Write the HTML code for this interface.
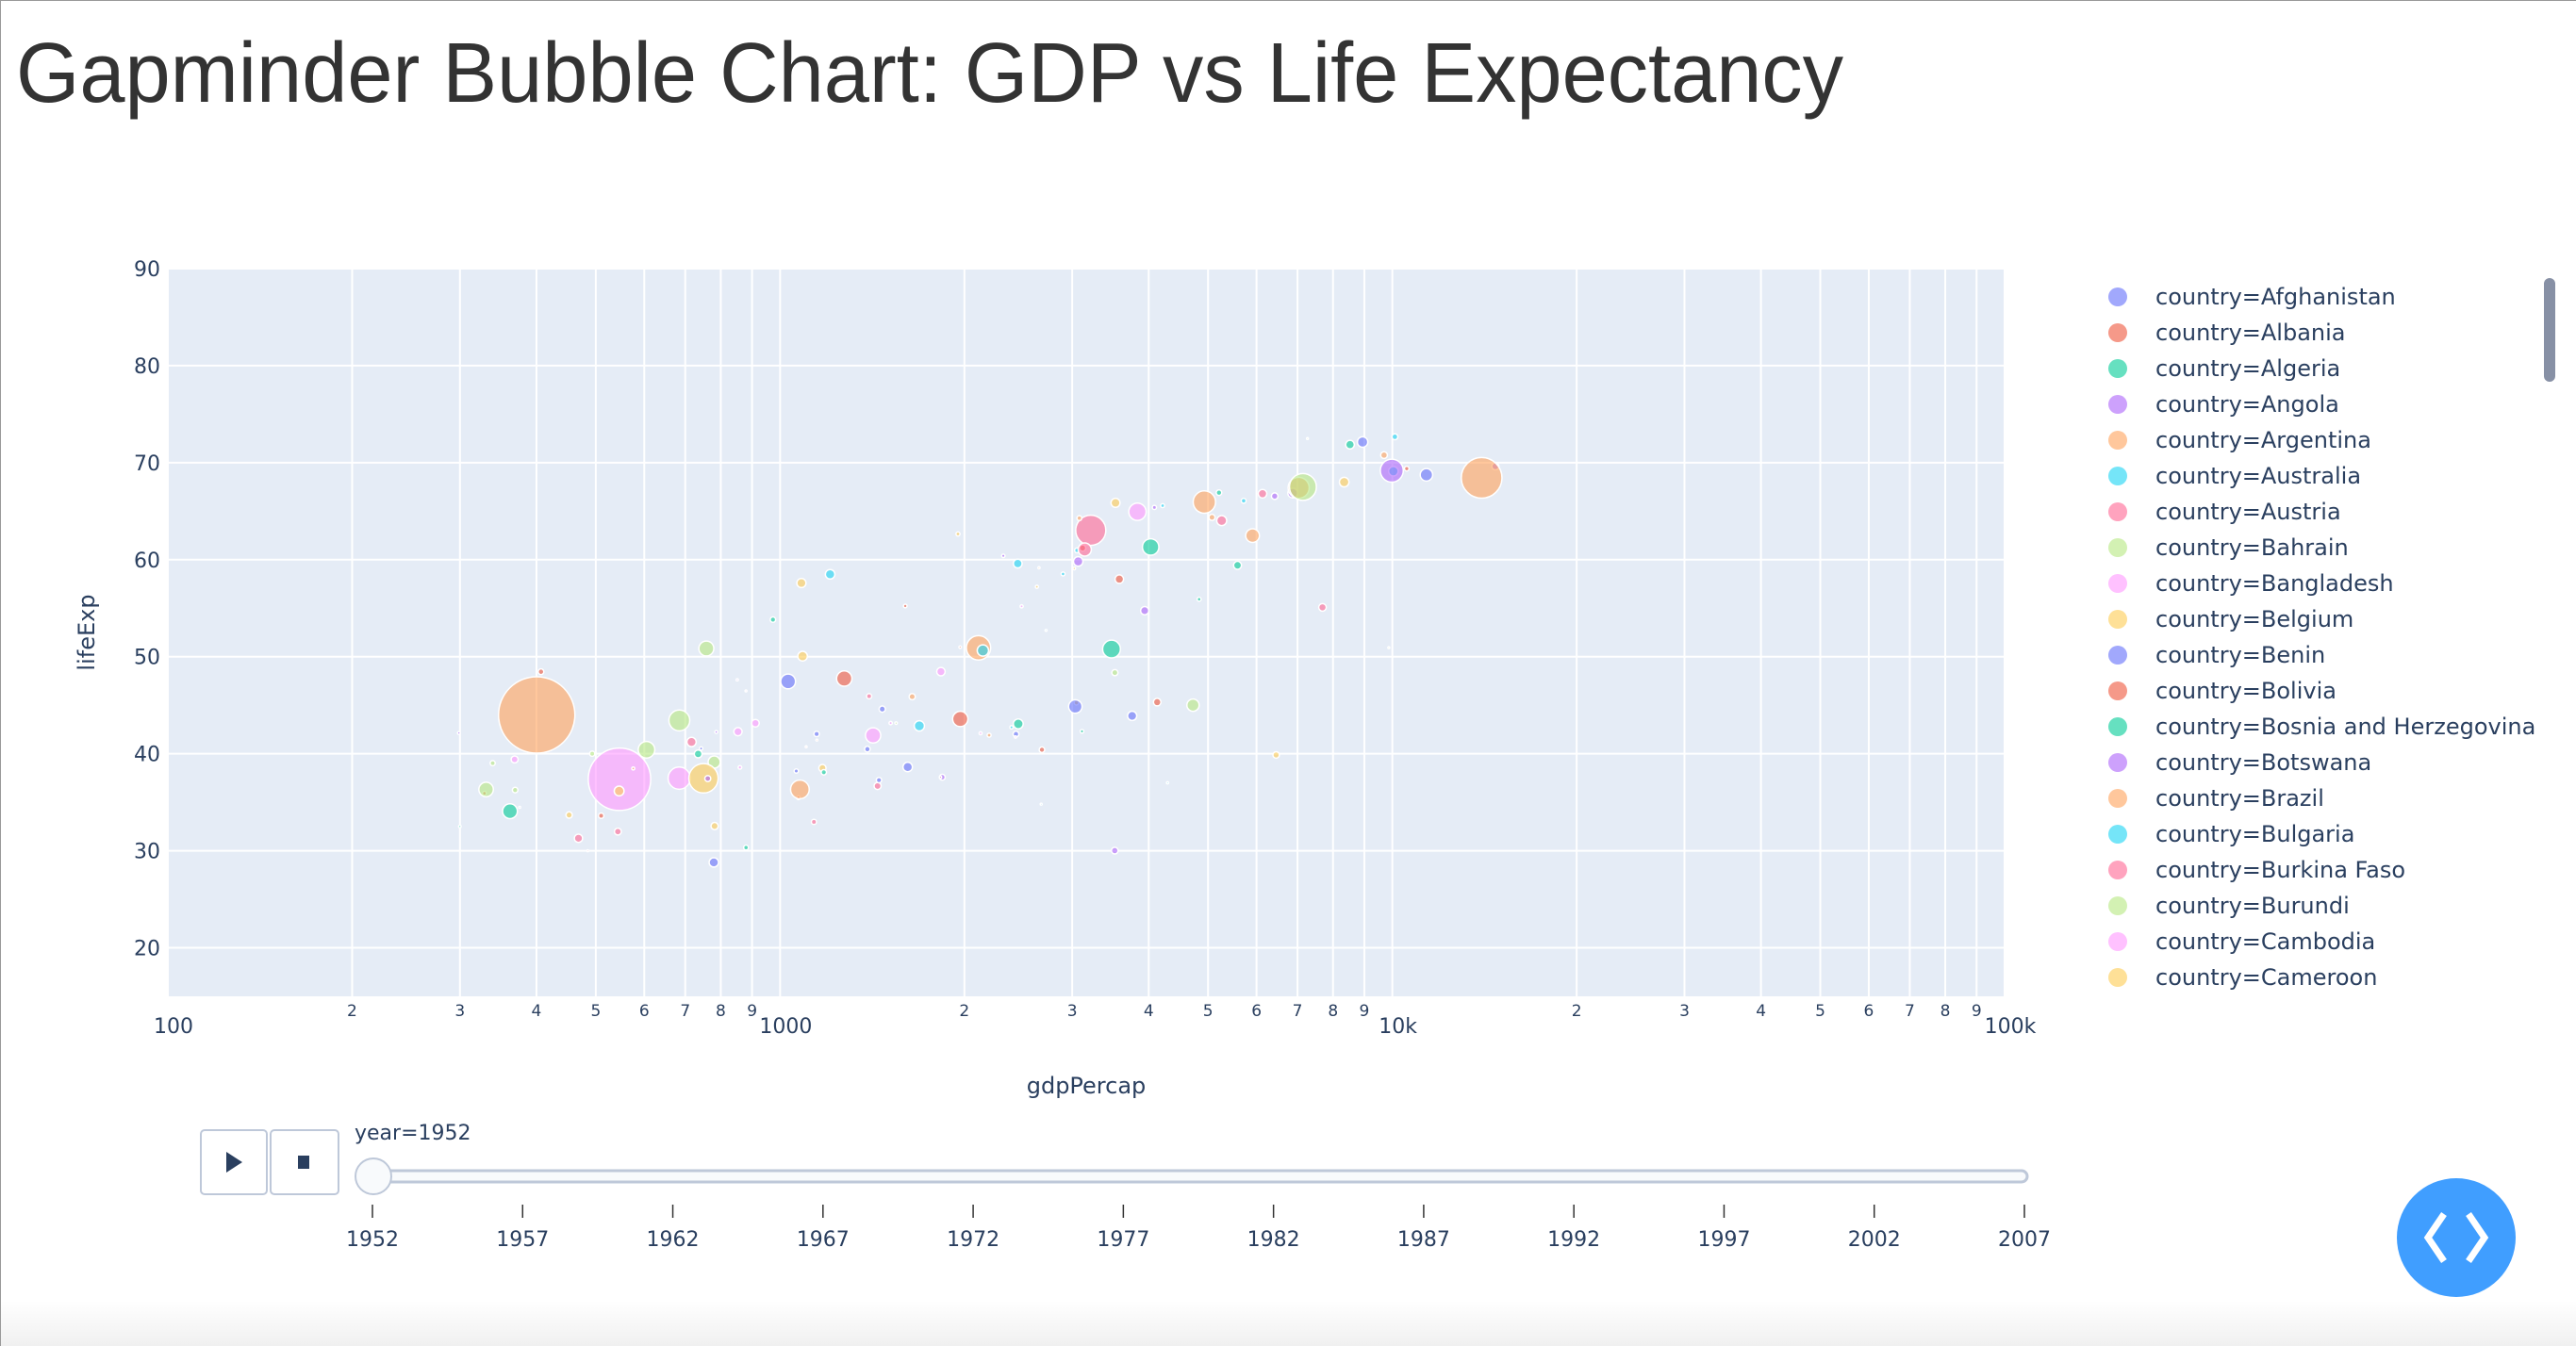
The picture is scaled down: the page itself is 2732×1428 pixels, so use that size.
<!DOCTYPE html>
<html><head><meta charset="utf-8">
<style>
html,body{margin:0;padding:0;background:#fff;}
body{width:2732px;height:1428px;overflow:hidden;position:relative;}
svg{position:absolute;left:0;top:0;}
</style></head>
<body>
<svg id="chart" width="2732" height="1428" viewBox="0 0 2732 1428" xmlns="http://www.w3.org/2000/svg">
<defs>
<linearGradient id="bot" x1="0" y1="0" x2="0" y2="1"><stop offset="0" stop-color="#fff"/><stop offset="1" stop-color="#f0f0f0"/></linearGradient>
</defs>
<rect x="0" y="1380" width="2732" height="48" fill="url(#bot)"/>
<line x1="0" y1="0.5" x2="2732" y2="0.5" stroke="#999" stroke-width="1"/>
<line x1="0.5" y1="0" x2="0.5" y2="1428" stroke="#999" stroke-width="1"/>
<text x="17" y="108" font-family="Liberation Sans, sans-serif" font-size="90" fill="#333" textLength="1938" lengthAdjust="spacingAndGlyphs">Gapminder Bubble Chart: GDP vs Life Expectancy</text>
<rect x="178" y="285" width="1948" height="772" fill="#e5ecf6"/>
<g id="grid"></g>
<g id="ticks"></g>
<g id="bubbles"></g>
<text x="1152" y="1160" text-anchor="middle" font-family="DejaVu Sans, sans-serif" font-size="24" fill="#2a3f5f">gdpPercap</text>
<text x="0" y="0" transform="translate(100,671) rotate(-90)" text-anchor="middle" font-family="DejaVu Sans, sans-serif" font-size="24" fill="#2a3f5f">lifeExp</text>
<g id="legend"></g>
<rect x="2698" y="295" width="12" height="110" rx="6" fill="#8790a5"/>
<g>
<rect x="213" y="1199" width="70" height="68" rx="4" fill="#fff" stroke="#bec8d9" stroke-width="2"/>
<polygon points="240,1222 240,1244 257,1233" fill="#2a3f5f"/>
</g>
<g>
<rect x="287" y="1199" width="72" height="68" rx="4" fill="#fff" stroke="#bec8d9" stroke-width="2"/>
<rect x="316" y="1226" width="12" height="14" fill="#2a3f5f"/>
</g>
<text x="376" y="1209" font-family="DejaVu Sans, sans-serif" font-size="22" fill="#2a3f5f">year=1952</text>
<rect x="394" y="1242" width="1756" height="12" rx="6" fill="#f8fafc" stroke="#bec8d9" stroke-width="3"/>
<g id="slidert"></g>
<circle cx="396" cy="1248" r="19" fill="#f8fafc" stroke="#bec8d9" stroke-width="2"/>
<g>
<circle cx="2605" cy="1313" r="63" fill="#409eff"/>
<polyline points="2592,1288 2575,1313 2592,1338" fill="none" stroke="#fff" stroke-width="7" stroke-linejoin="miter"/>
<polyline points="2618,1288 2635,1313 2618,1338" fill="none" stroke="#fff" stroke-width="7" stroke-linejoin="miter"/>
</g>
</svg>
<script>
const countries=["Afghanistan","Albania","Algeria","Angola","Argentina","Australia","Austria","Bahrain","Bangladesh","Belgium","Benin","Bolivia","Bosnia and Herzegovina","Botswana","Brazil","Bulgaria","Burkina Faso","Burundi","Cambodia","Cameroon","Canada","Central African Republic","Chad","Chile","China","Colombia","Comoros","Congo, Dem. Rep.","Congo, Rep.","Costa Rica","Cote d'Ivoire","Croatia","Cuba","Czech Republic","Denmark","Djibouti","Dominican Republic","Ecuador","Egypt","El Salvador","Equatorial Guinea","Eritrea","Ethiopia","Finland","France","Gabon","Gambia","Germany","Ghana","Greece","Guatemala","Guinea","Guinea-Bissau","Haiti","Honduras","Hong Kong","Hungary","Iceland","India","Indonesia","Iran","Iraq","Ireland","Israel","Italy","Jamaica","Japan","Jordan","Kenya","Korea, Dem. Rep.","Korea, Rep.","Kuwait","Lebanon","Lesotho","Liberia","Libya","Madagascar","Malawi","Malaysia","Mali","Mauritania","Mauritius","Mexico","Mongolia","Montenegro","Morocco","Mozambique","Myanmar","Namibia","Nepal","Netherlands","New Zealand","Nicaragua","Niger","Nigeria","Norway","Oman","Pakistan","Panama","Paraguay","Peru","Philippines","Poland","Portugal","Puerto Rico","Reunion","Romania","Rwanda","Sao Tome and Principe","Saudi Arabia","Senegal","Serbia","Sierra Leone","Singapore","Slovak Republic","Slovenia","Somalia","South Africa","Spain","Sri Lanka","Sudan","Swaziland","Sweden","Switzerland","Syria","Taiwan","Tanzania","Thailand","Togo","Trinidad and Tobago","Tunisia","Turkey","Uganda","United Kingdom","United States","Uruguay","Venezuela","Vietnam","West Bank and Gaza","Yemen, Rep.","Zambia","Zimbabwe"];
const lifeExp=[28.801,55.23,43.077,30.015,62.485,69.12,66.8,50.939,37.484,68.0,38.223,40.414,53.82,47.622,50.917,59.6,31.975,39.031,39.417,38.523,68.75,35.463,38.092,54.745,44.0,50.643,40.715,39.143,42.111,57.206,40.477,61.21,59.421,66.87,70.78,34.812,45.928,48.357,41.893,45.262,34.482,35.928,34.078,66.55,67.41,37.003,30.0,67.5,43.149,65.86,42.023,33.609,32.5,37.579,41.912,60.96,64.03,72.49,37.373,37.468,44.869,45.32,66.91,65.39,65.94,58.53,63.03,43.158,42.27,50.056,47.453,55.565,55.928,42.138,38.48,42.723,36.681,36.256,48.463,33.685,40.543,50.986,50.789,42.244,59.164,42.873,31.286,36.319,41.725,36.157,72.13,69.39,42.314,37.444,36.324,72.67,37.578,43.436,55.191,62.649,43.902,47.752,61.31,59.82,64.28,52.724,61.05,40.0,46.471,39.875,37.278,57.996,30.331,60.396,64.36,65.57,32.978,45.009,64.94,57.593,38.635,41.407,71.86,69.62,45.883,58.5,41.215,50.848,38.596,59.1,44.6,43.585,39.978,69.18,68.44,66.071,55.088,40.412,43.16,32.548,42.038,48.451];
const gdpPercap=[779.4,1601.1,2449.0,3520.6,5911.3,10039.6,6137.1,9867.1,684.2,8343.1,1062.8,2677.3,973.5,851.2,2108.9,2444.3,543.3,339.3,368.5,1172.7,11367.2,1071.3,1178.7,3940.0,400.4,2144.1,1103.0,780.5,2125.6,2627.0,1388.6,3119.2,5586.5,6876.1,9692.4,2669.5,1397.7,3522.1,1418.8,3048.3,375.6,328.9,362.1,6424.5,7029.8,4293.5,485.2,7144.1,911.3,3530.7,2428.2,510.2,299.9,1840.4,2194.9,3054.4,5263.7,7267.7,546.6,749.7,3035.3,4129.8,5210.3,4086.5,4931.4,2898.5,3217.0,1546.9,853.5,1088.3,1030.6,108382.4,4834.8,298.8,575.6,2387.5,1443.0,369.2,1831.1,452.3,743.1,1968.0,3478.1,786.6,2647.6,1688.2,468.5,331.0,2423.8,545.9,8941.6,10556.6,3112.4,761.9,1077.3,10095.4,1828.2,684.6,2480.4,1952.3,3758.5,1272.9,4029.3,3068.3,3082.0,2718.9,3144.6,493.3,879.6,6459.6,1450.4,3581.5,879.8,2315.1,5074.7,4215.0,1135.8,4725.3,3834.0,1083.5,1616.0,1148.4,8527.8,14734.2,1643.5,1206.9,716.7,757.8,859.8,3023.3,1468.5,1969.1,734.8,9979.5,13990.5,5716.8,7689.8,605.1,1515.6,781.7,1147.4,406.9];
const pop=[8425333,1282697,9279525,4232095,17876956,8691212,6927772,120447,46886859,8730405,1738315,2883315,2791000,442308,56602560,7274900,4469979,2445618,4693836,5009067,14785584,1291695,2682462,6377619,556263527,12350771,153936,14100005,854885,926317,2977019,3882229,6007797,9125183,4334000,63149,2491346,3548753,22223309,2042865,216964,1438760,20860941,4090500,42459667,420702,284320,69145952,5581001,7733250,3146381,2664249,580653,3201488,1517453,2125900,9504000,147962,372000000,82052000,17272000,5441766,2952156,1620914,47666000,1426095,86459025,607914,6464046,8865488,20947571,160000,1439529,748747,863308,1019729,4762912,2917802,6748378,3838168,1022556,516556,30144317,800663,413834,9939217,6446316,20092996,485831,9182536,10381988,1994794,1165790,3379468,33119096,3327728,507833,41346560,940080,1555876,8025700,22438691,25730551,8526050,2227000,257700,16630000,2534927,60011,4005677,2755589,6860147,2143249,1127000,3558137,1489518,2526994,14264935,28549870,7982342,8504667,290243,7124673,4815000,3661549,8550362,8322925,21289402,1219113,662850,3647735,22235677,5824797,50430000,157553000,2252965,5439568,26246839,1030585,4963829,2672000,3080907];
const yTicks=[20,30,40,50,60,70,80,90];
const xMajor=[100,1000,10000,100000];
const xMajorLabels=["100","1000","10k","100k"];
const minorDigits=[2,3,4,5,6,7,8,9];
const years=[1952,1957,1962,1967,1972,1977,1982,1987,1992,1997,2002,2007];

const palette=["#636EFA","#EF553B","#00CC96","#AB63FA","#FFA15A","#19D3F3","#FF6692","#B6E880","#FF97FF","#FECB52"];
const NS="http://www.w3.org/2000/svg";
const PL=178,PR=2126,PT=285,PB=1057;
const X0=2,X1=5,Y0=15,Y1=90;
function xs(v){return PL+(Math.log10(v)-X0)/(X1-X0)*(PR-PL);}
function ys(v){return PB-(v-Y0)/(Y1-Y0)*(PB-PT);}
function mk(tag,attrs,parent,text){const e=document.createElementNS(NS,tag);for(const k in attrs)e.setAttribute(k,attrs[k]);if(text!==undefined)e.textContent=text;parent.appendChild(e);return e;}
const grid=document.getElementById('grid'),ticks=document.getElementById('ticks');
const F="DejaVu Sans, sans-serif";
yTicks.forEach(v=>{
  const l=mk('line',{x1:PL,x2:PR,y1:ys(v),y2:ys(v),stroke:'#fff','stroke-width':2},grid);
  
  
  const t=mk('text',{x:170,y:ys(v)+8,'text-anchor':'end','font-family':F,'font-size':22,fill:'#2a3f5f'},ticks,String(v));
  
  
});
xMajor.forEach((v,i)=>{
  const l=mk('line',{x1:xs(v),x2:xs(v),y1:PT,y2:PB,stroke:'#fff','stroke-width':2},grid);
  
  
  const t=mk('text',{x:xs(v)+6,y:1096,'text-anchor':'middle','font-family':F,'font-size':22,fill:'#2a3f5f'},ticks,xMajorLabels[i]);
  
  
  if(i<xMajor.length-1){
    minorDigits.forEach(d=>{
      const mv=v*d;
      const ml=mk('line',{x1:xs(mv),x2:xs(mv),y1:PT,y2:PB,stroke:'#fff','stroke-width':2},grid);
      
      
      const mt=mk('text',{x:xs(mv),y:1078,'text-anchor':'middle','font-family':F,'font-size':17,fill:'#2a3f5f'},ticks,String(d));
      
      
    });
  }
});
const bub=document.getElementById('bubbles');
const maxPop=Math.max(...pop);
countries.forEach((c,i)=>{
  const g=gdpPercap[i];
  if(g<100||g>100000)return;
  const r=40.5*Math.sqrt(pop[i]/maxPop);
  const e=mk('circle',{cx:xs(g),cy:ys(lifeExp[i]),r:Math.max(r,1),fill:palette[i%10],'fill-opacity':0.6,stroke:'#fff','stroke-width':1.5},bub);
  
  
});
const leg=document.getElementById('legend');
for(let i=0;i<20;i++){
  const y=315+i*38;
  const g=mk('g',{},leg);
  
  
  mk('circle',{cx:2246,cy:y,r:10,fill:palette[i%10],'fill-opacity':0.6},g);
  mk('text',{x:2286,y:y+8,'font-family':F,'font-size':24,fill:'#2a3f5f'},g,'country='+countries[i]);
}
const st=document.getElementById('slidert');
years.forEach((yv,i)=>{
  const x=395+(yv-years[0])/(years[years.length-1]-years[0])*(2147-395);
  const l=mk('line',{x1:x,x2:x,y1:1278,y2:1292,stroke:'#333','stroke-width':1.5},st);
  
  
  const t=mk('text',{x:x,y:1322,'text-anchor':'middle','font-family':F,'font-size':22,fill:'#2a3f5f'},st,String(yv));
  
  
});
</script>
</body></html>
